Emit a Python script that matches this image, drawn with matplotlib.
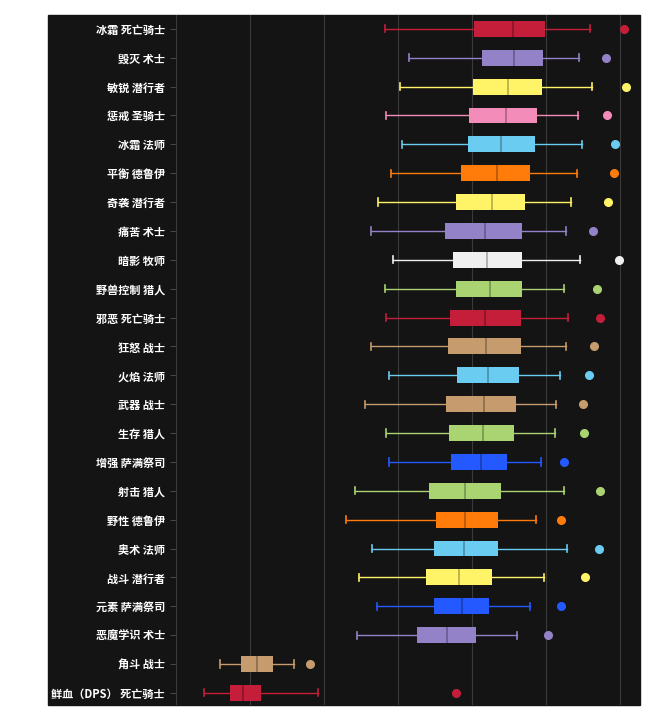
import matplotlib
matplotlib.use('Agg')
import matplotlib.pyplot as plt
from matplotlib.patches import Rectangle
from matplotlib.colors import to_rgb

plt.rcParams['font.family'] = ['Noto Sans CJK SC', 'DejaVu Sans']

# spec, class colour, (whislo, q1, med, q3, whishi, outlier)
rows = [
    ("冰霜 死亡骑士", "#c41e3a", (209, 298, 337, 369, 414, 448)),
    ("毁灭 术士", "#9482c9", (233, 306, 338, 367, 403, 430)),
    ("敏锐 潜行者", "#fff468", (224, 297, 332, 366, 416, 450)),
    ("惩戒 圣骑士", "#f48cba", (210, 293, 330, 361, 402, 431)),
    ("冰霜 法师", "#69ccf0", (226, 292, 325, 359, 406, 439)),
    ("平衡 德鲁伊", "#ff7c0a", (215, 285, 321, 354, 401, 438)),
    ("奇袭 潜行者", "#fff468", (202, 280, 316, 349, 395, 432)),
    ("痛苦 术士", "#9482c9", (195, 269, 309, 346, 390, 417)),
    ("暗影 牧师", "#f0f0f0", (217, 277, 311, 346, 404, 443)),
    ("野兽控制 猎人", "#aad372", (209, 280, 314, 346, 388, 421)),
    ("邪恶 死亡骑士", "#c41e3a", (210, 274, 309, 345, 392, 424)),
    ("狂怒 战士", "#c69b6d", (195, 272, 310, 345, 390, 418)),
    ("火焰 法师", "#69ccf0", (213, 281, 312, 343, 384, 413)),
    ("武器 战士", "#c69b6d", (189, 270, 308, 340, 380, 407)),
    ("生存 猎人", "#aad372", (210, 273, 307, 338, 379, 408)),
    ("增强 萨满祭司", "#2459ff", (213, 275, 305, 331, 365, 388)),
    ("射击 猎人", "#aad372", (179, 253, 289, 325, 388, 424)),
    ("野性 德鲁伊", "#ff7c0a", (170, 260, 289, 322, 360, 385)),
    ("奥术 法师", "#69ccf0", (196, 258, 288, 322, 391, 423)),
    ("战斗 潜行者", "#fff468", (183, 250, 283, 316, 368, 409)),
    ("元素 萨满祭司", "#2459ff", (201, 258, 286, 313, 354, 385)),
    ("恶魔学识 术士", "#9482c9", (181, 241, 271, 300, 341, 372)),
    ("角斗 战士", "#c69b6d", (44, 65, 81, 97, 118, 134)),
    ("鲜血（DPS） 死亡骑士", "#c41e3a", (28, 54, 67, 85, 142, 280)),
]

bg = "#141414"
fig = plt.figure(figsize=(6.58, 7.19), dpi=100)
panel = Rectangle((48 / 658, 14 / 719), 592 / 658, 690 / 719,
                  transform=fig.transFigure, color=bg, zorder=-10)
fig.add_artist(panel)
ax = fig.add_axes([176 / 658, 14 / 719, 464 / 658, 690 / 719])
ax.set_facecolor(bg)

n = len(rows)
for i, (name, col, (lo, q1, med, q3, hi, out)) in enumerate(rows):
    y = n - 1 - i
    dark = tuple(c * 0.7 for c in to_rgb(col))
    st = [dict(whislo=lo, q1=q1, med=med, q3=q3, whishi=hi, fliers=[out])]
    ax.bxp(st, positions=[y], widths=0.55, vert=False, patch_artist=True,
           boxprops=dict(facecolor=col, edgecolor=col, linewidth=0),
           medianprops=dict(color=dark, linewidth=1.2),
           whiskerprops=dict(color=col, linewidth=1),
           capprops=dict(color=col, linewidth=1.2),
           capwidths=0.25,
           flierprops=dict(marker='o', markerfacecolor=col, markeredgecolor=col,
                           markersize=5.5))

ax.set_yticks(range(n))
ax.set_yticklabels([r[0] for r in rows][::-1], color="white", fontsize=8,
                   fontweight="bold")
ax.tick_params(axis='y', length=4, color="#444444", pad=4)
ax.set_xticks([74 * k for k in range(7)])
ax.set_xticklabels([])
ax.tick_params(axis='x', length=0)
ax.grid(axis='x', color="#3a3a3a", linewidth=0.8)
ax.set_axisbelow(True)
ax.set_xlim(0, 464)
ax.set_ylim(-0.42, n - 0.52)
for s in ax.spines.values():
    s.set_visible(False)

fig.savefig("out.png", dpi=100, facecolor="white")
